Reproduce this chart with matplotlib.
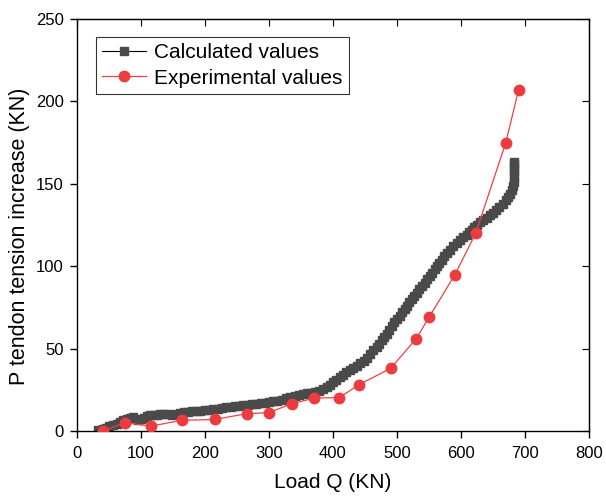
import numpy as np
import matplotlib
matplotlib.use("Agg")
import matplotlib.pyplot as plt

plt.rcParams['font.family'] = ['Liberation Sans', 'DejaVu Sans']

# Calculated values (load Q, tendon tension increase)
calc_q = [33, 40, 45, 50, 56, 62, 67, 72, 78, 83, 88, 95, 100, 105, 110, 114,
          120, 125, 130, 135, 142, 148, 155, 161, 168, 174, 180, 187, 193, 200,
          207, 213, 220, 227, 233, 240, 247, 253, 260, 267, 273, 280, 287, 293,
          300, 307, 313, 320, 327, 333, 340, 347, 353, 360, 366, 372, 378, 384,
          390, 395, 400, 405, 411, 416, 421, 427, 432, 437, 442, 448, 453, 458,
          463, 468, 472, 476, 480, 484, 488, 492, 496, 500, 504, 508, 512, 515,
          519, 523, 527, 531, 535, 539, 543, 547, 551, 555, 559, 562, 566, 570,
          574, 578, 583, 588, 593, 598, 603, 609, 613, 617, 621, 625, 630, 635,
          640, 645, 650, 655, 660, 666, 670, 673, 676, 679, 681, 682, 683, 683,
          683, 683, 682]
calc_p = [0.5, 1.2, 2.0, 2.8, 3.5, 4.5, 5.5, 6.5, 7.5, 8.0, 8.5, 6.5, 7.5, 8.0,
          9.0, 9.5, 9.8, 10.0, 10.3, 10.5, 10.2, 10.0, 10.6, 11.0, 11.3, 11.6,
          12.0, 12.2, 12.4, 12.6, 13.0, 13.3, 13.6, 14.0, 14.3, 14.6, 15.0,
          15.3, 15.6, 16.0, 16.3, 16.6, 17.0, 17.3, 17.6, 18.0, 18.3, 18.9,
          19.8, 20.6, 21.2, 21.8, 22.3, 22.8, 23.3, 23.8, 24.4, 25.2, 26.5,
          28.0, 29.6, 31.2, 32.8, 34.2, 35.6, 37.0, 38.2, 39.6, 41.0, 42.5,
          44.0, 46.5, 49.0, 51.0, 53.0, 55.0, 57.0, 59.0, 61.5, 64.0, 66.0,
          68.0, 70.0, 72.0, 74.0, 76.0, 78.0, 80.0, 82.0, 84.0, 86.0, 88.0,
          90.0, 92.0, 94.0, 96.0, 98.0, 100.0, 102.0, 104.0, 106.0, 108.0,
          110.0, 112.0, 114.0, 116.0, 117.5, 119.0, 120.5, 122.0, 123.5, 125.0,
          126.5, 128.0, 129.5, 131.0, 132.5, 134.0, 136.0, 138.0, 140.0, 142.0,
          144.0, 146.0, 148.5, 151.0, 154.0, 157.0, 159.5, 162.0, 163.5]

# Experimental values
exp_q = [40, 75, 116, 164, 215, 265, 300, 336, 371, 410, 440, 490, 530, 550,
         590, 623, 670, 690]
exp_p = [0, 5, 3, 6.5, 7, 10.5, 11.2, 16.6, 20, 20.3, 28, 38, 56, 69, 94.5,
         120, 175, 207]

fig = plt.figure(figsize=(6.06, 4.98), dpi=100)
ax = fig.add_axes([0.127, 0.1345, 0.845, 0.8275])

ax.plot(calc_q, calc_p, color='black', lw=0.8, marker='s', ms=6,
        mfc='#4a4a4a', mec='#4a4a4a', label='Calculated values', zorder=2)
ax.plot(exp_q, exp_p, color='#f04040', lw=0.9, marker='o', ms=7.5,
        mfc='#ee3b3f', mec='#ee3b3f', label='Experimental values', zorder=3)

ax.set_xlim(0, 800)
ax.set_ylim(0, 250)
ax.set_xticks(np.arange(0, 801, 100))
ax.set_yticks(np.arange(0, 251, 50))

ax.tick_params(axis='both', which='major', labelsize=12, length=5, width=1,
               direction='out', colors='black')
ax.tick_params(axis='x', pad=5.5)
ax.tick_params(axis='y', pad=4.5)
# inward ticks on top / right, origin style
ax_top = ax.secondary_xaxis('top')
ax_top.set_xticks(np.arange(0, 801, 100))
ax_top.tick_params(direction='in', length=5, labeltop=False)
ax_right = ax.secondary_yaxis('right')
ax_right.set_yticks(np.arange(0, 251, 50))
ax_right.tick_params(direction='in', length=5, labelright=False)

for s in ax.spines.values():
    s.set_linewidth(1.0)

ax.set_xlabel('Load Q (KN)', fontsize=15, labelpad=9)
ax.set_ylabel('P tendon tension increase (KN)', fontsize=15.5)
ax.yaxis.set_label_coords(-0.092, 0.473)

leg = ax.legend(loc='upper left', bbox_to_anchor=(0.037, 0.956), fontsize=15,
                frameon=True, fancybox=False, edgecolor='black',
                handlelength=2.1, borderpad=0.3, labelspacing=0.3,
                handletextpad=0.4, borderaxespad=0)
leg.get_frame().set_linewidth(0.8)

fig.savefig('out.png', dpi=100)
